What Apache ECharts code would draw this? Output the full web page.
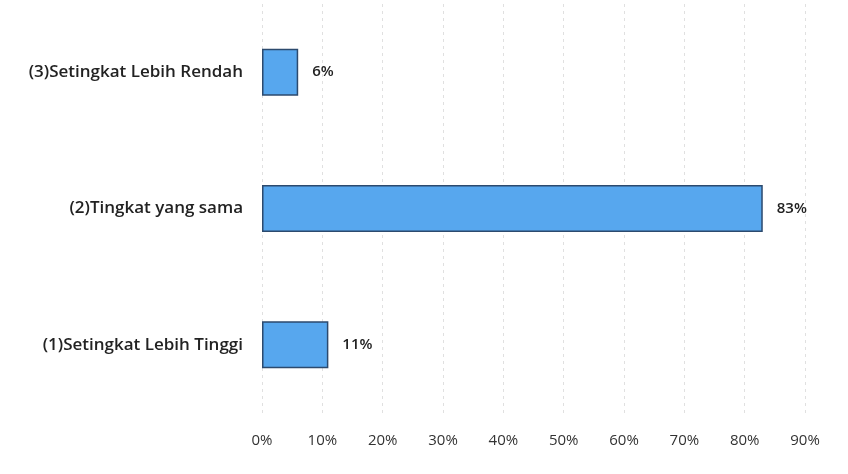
<!DOCTYPE html>
<html><head><meta charset="utf-8">
<script src="https://cdn.jsdelivr.net/npm/echarts@6/dist/echarts.min.js"></script>
<style>html,body{margin:0;padding:0;background:#fff}#c{width:848px;height:474px}</style>
</head><body><div id="c"></div>
<script>
const categories = ['(1)Setingkat Lebih Tinggi', '(2)Tingkat yang sama', '(3)Setingkat Lebih Rendah'];
const values = [11, 83, 6];
const tickMax = 90;
const tickStep = 10;

const chart = echarts.init(document.getElementById('c'));
chart.setOption({
  animation: false,
  grid: {left: 262, right: 43, top: 4, bottom: 61},
  xAxis: {
    type: 'value', min: 0, max: tickMax, interval: tickStep,
    axisLine: {show: false}, axisTick: {show: false},
    axisLabel: {formatter: '{value}%', color: '#333', fontFamily: 'Open Sans', fontSize: 15, margin: 20},
    splitLine: {lineStyle: {color: '#e0e0e0', type: [3, 4], width: 1}}
  },
  yAxis: {
    type: 'category', data: categories,
    axisLine: {show: false}, axisTick: {show: false},
    axisLabel: {color: '#222', fontFamily: 'Open Sans', fontSize: 17, fontWeight: 600, margin: 19}
  },
  series: [{
    type: 'bar', data: values, barWidth: 47,
    itemStyle: {color: '#57a7ee', borderColor: '#2c4a6e', borderWidth: 1.5},
    label: {show: true, position: 'right', formatter: '{c}%', distance: 14, color: '#222', fontFamily: 'Open Sans', fontSize: 15, fontWeight: 600}
  }]
});
</script></body></html>
